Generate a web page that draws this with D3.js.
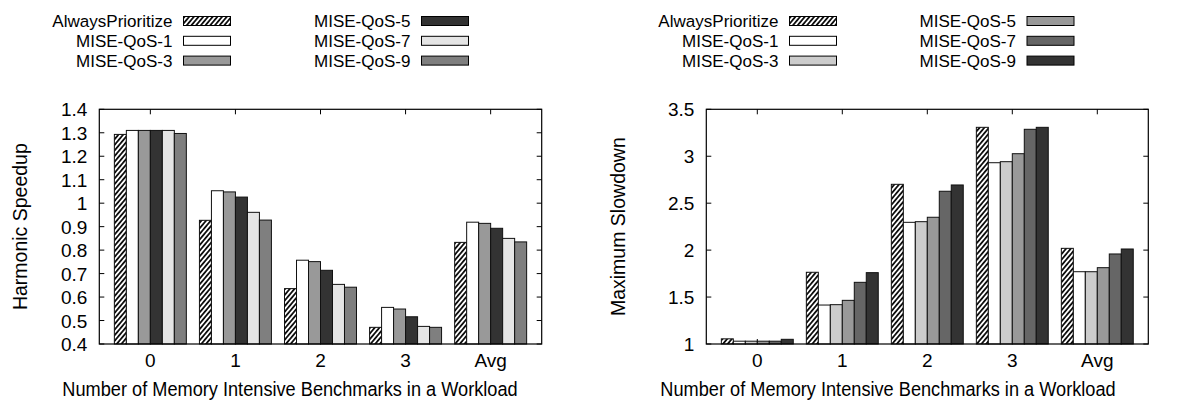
<!DOCTYPE html>
<html>
<head>
<meta charset="utf-8">
<script src="https://cdn.jsdelivr.net/npm/d3@7/dist/d3.min.js"></script>
<style>
  html, body { margin: 0; padding: 0; background: #fff; }
  svg { display: block; }
  text { font-family: "Liberation Sans", Arial, Helvetica, sans-serif; fill: #000; }
</style>
</head>
<body>
<svg id="fig" width="1179" height="404"></svg>
<script>
// Workload groups on the x axis
const categories = ["0", "1", "2", "3", "Avg"];
const schemes = ["AlwaysPrioritize", "MISE-QoS-1", "MISE-QoS-3", "MISE-QoS-5", "MISE-QoS-7", "MISE-QoS-9"];

// Harmonic speedup per scheme
const hsAlwaysPrioritize = [1.293, 0.927, 0.636, 0.471, 0.833];
const hsQoS1 = [1.310, 1.053, 0.757, 0.556, 0.919];
const hsQoS3 = [1.310, 1.048, 0.751, 0.549, 0.914];
const hsQoS5 = [1.310, 1.026, 0.714, 0.516, 0.893];
const hsQoS7 = [1.310, 0.961, 0.654, 0.475, 0.850];
const hsQoS9 = [1.297, 0.928, 0.642, 0.471, 0.835];

// Maximum slowdown per scheme
const msAlwaysPrioritize = [1.055, 1.764, 2.701, 3.308, 2.019];
const msQoS1 = [1.030, 1.415, 2.296, 2.931, 1.770];
const msQoS3 = [1.030, 1.419, 2.303, 2.942, 1.770];
const msQoS5 = [1.030, 1.465, 2.350, 3.027, 1.813];
const msQoS7 = [1.030, 1.657, 2.627, 3.287, 1.959];
const msQoS9 = [1.050, 1.760, 2.694, 3.308, 2.012];

// Tick values
const speedupTicks = [0.4, 0.5, 0.6, 0.7, 0.8, 0.9, 1.0, 1.1, 1.2, 1.3, 1.4];
const slowdownTicks = [1, 1.5, 2, 2.5, 3, 3.5];

// Fill colours per panel (index 0 is the hatched scheme)
const speedupFills = ["hatch", "#ffffff", "#999999", "#333333", "#e5e5e5", "#7f7f7f"];
const slowdownFills = ["hatch", "#ffffff", "#cccccc", "#999999", "#666666", "#333333"];

const svg = d3.select("#fig");
const TICK_FONT = 19;
const LABEL_FONT = 19.5;   // axis titles, slightly condensed horizontally
const LABEL_SX = 0.933;
const YLABEL_FONT = 19.5;
const LEGEND_FONT = 17.2;
const LEGEND_SX = 0.99;

// Diagonal hatch pattern
const defs = svg.append("defs");
const pat = defs.append("pattern")
  .attr("id", "hatch").attr("patternUnits", "userSpaceOnUse")
  .attr("width", 3.6).attr("height", 3.6)
  .attr("patternTransform", "rotate(40)");
pat.append("rect").attr("width", 3.6).attr("height", 3.6).attr("fill", "#fff");
pat.append("line").attr("x1", 0.9).attr("y1", 0).attr("x2", 0.9).attr("y2", 3.6)
  .attr("stroke", "#000").attr("stroke-width", 1.7);

function fillOf(f) { return f === "hatch" ? "url(#hatch)" : f; }

function panel(opts) {
  const { x0, x1, y0, y1, domain, ticks, series, fills, ylabel, ylabelX, xlabelX, legend } = opts;
  const x = d3.scaleLinear().domain([-0.6, 4.6]).range([x0, x1]);
  const y = d3.scaleLinear().domain(domain).range([y1, y0]);
  const barW = 0.141;
  const g = svg.append("g");

  // ticks on all four sides, pointing inward
  const tl = 5;
  ticks.forEach(t => {
    g.append("line").attr("x1", x0).attr("x2", x0 + tl).attr("y1", y(t)).attr("y2", y(t)).attr("stroke", "#000");
    g.append("line").attr("x1", x1).attr("x2", x1 - tl).attr("y1", y(t)).attr("y2", y(t)).attr("stroke", "#000");
  });
  categories.forEach((c, i) => {
    g.append("line").attr("x1", x(i)).attr("x2", x(i)).attr("y1", y0).attr("y2", y0 + tl).attr("stroke", "#000");
    g.append("line").attr("x1", x(i)).attr("x2", x(i)).attr("y1", y1).attr("y2", y1 - tl).attr("stroke", "#000");
  });

  // bars
  series.forEach((vals, s) => {
    g.selectAll(null).data(vals).enter().append("rect")
      .attr("x", (d, i) => x(i + (s - 3) * barW))
      .attr("width", x(barW) - x(0))
      .attr("y", d => y(d))
      .attr("height", d => y(domain[0]) - y(d))
      .attr("fill", fillOf(fills[s]))
      .attr("stroke", "#111").attr("stroke-width", 1);
  });

  // frame
  g.append("rect").attr("x", x0).attr("y", y0).attr("width", x1 - x0).attr("height", y1 - y0)
    .attr("fill", "none").attr("stroke", "#000").attr("stroke-width", 1.2);

  // y tick labels
  g.selectAll(null).data(ticks).enter().append("text")
    .attr("x", x0 - 12).attr("y", d => y(d) + 7)
    .attr("text-anchor", "end").attr("font-size", TICK_FONT)
    .text(d => d3.format("~g")(d));

  // x tick labels
  g.selectAll(null).data(categories).enter().append("text")
    .attr("x", (d, i) => x(i)).attr("y", y1 + 23)
    .attr("text-anchor", "middle").attr("font-size", TICK_FONT)
    .text(d => d);

  // axis titles
  g.append("text")
    .attr("transform", `translate(${xlabelX},396) scale(${LABEL_SX},1)`)
    .attr("text-anchor", "middle").attr("font-size", LABEL_FONT)
    .text("Number of Memory Intensive Benchmarks in a Workload");
  g.append("text")
    .attr("transform", `translate(${ylabelX},${(y0 + y1) / 2}) rotate(-90)`)
    .attr("text-anchor", "middle").attr("font-size", YLABEL_FONT)
    .text(ylabel);

  // legend: two columns of three
  const rows = [21, 40.8, 60.6];
  schemes.forEach((name, s) => {
    const col = Math.floor(s / 3), row = s % 3;
    const sx = legend[col];
    g.append("text")
      .attr("transform", `translate(${sx - 11},${rows[row] + 6.2}) scale(${LEGEND_SX},1)`)
      .attr("text-anchor", "end").attr("font-size", LEGEND_FONT).text(name);
    g.append("rect").attr("x", sx).attr("y", rows[row] - 4.5).attr("width", 47).attr("height", 9)
      .attr("fill", fillOf(fills[s])).attr("stroke", "#000").attr("stroke-width", 1);
  });
}

panel({
  x0: 99.3, x1: 541.7, y0: 109.3, y1: 344,
  domain: [0.4, 1.4], ticks: speedupTicks,
  series: [hsAlwaysPrioritize, hsQoS1, hsQoS3, hsQoS5, hsQoS7, hsQoS9],
  fills: speedupFills, ylabel: "Harmonic Speedup", ylabelX: 27, xlabelX: 290,
  legend: [183.5, 421.5]
});

panel({
  x0: 706.3, x1: 1148.3, y0: 109.3, y1: 344,
  domain: [1, 3.5], ticks: slowdownTicks,
  series: [msAlwaysPrioritize, msQoS1, msQoS3, msQoS5, msQoS7, msQoS9],
  fills: slowdownFills, ylabel: "Maximum Slowdown", ylabelX: 625, xlabelX: 888,
  legend: [789.5, 1027]
});
</script>
</body>
</html>
